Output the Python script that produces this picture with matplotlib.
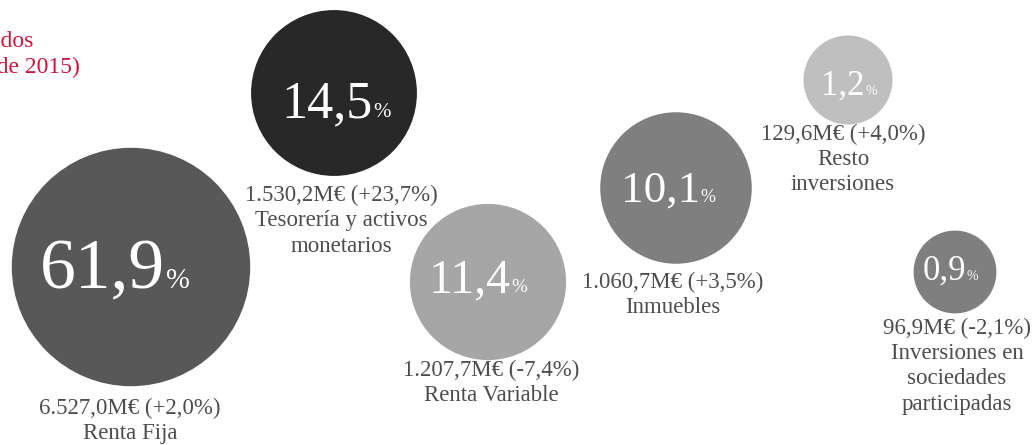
import matplotlib
matplotlib.use("Agg")
import matplotlib.pyplot as plt
from matplotlib.patches import Circle

# ---------------- data ----------------
categories = ["Renta Fija", "Tesorería y activos\nmonetarios", "Renta Variable",
              "Inmuebles", "Resto\ninversiones", "Inversiones en\nsociedades\nparticipadas"]
shares = [61.9, 14.5, 11.4, 10.1, 1.2, 0.9]          # % of total
amounts = [6527.0, 1530.2, 1207.7, 1060.7, 129.6, 96.9]  # M€
changes = [2.0, 23.7, -7.4, 3.5, 4.0, -2.1]           # % change
title_lines = ["Inversiones y fondos líquidos", "(a 31 de diciembre de 2015)"]

# ---------------- layout / style ----------------
W, H = 1033, 445
centers = [(131, 267), (334, 93), (488, 282), (676, 188), (848, 80), (955, 272)]
colors = ["#585858", "#282828", "#a6a6a6", "#7f7f7f", "#bfbfbf", "#7f7f7f"]
num_center_x = [115, 336, 478, 668, 849, 950]
num_baseline = [288, 117, 292, 202, 95, 280]
num_fontsize = [51.5, 37.5, 34.5, 32.5, 25, 25]
label_pos = [(130, 408), (341, 195), (491, 370), (673, 282), (843, 134), (957, 328)]
line_step = 25.5
label_color = "#4d4d4d"
red = "#d2143a"
FONT = ["Liberation Serif", "DejaVu Serif"]
r_scale = 42.5


def es_num(v):
    s = f"{v:,.1f}"
    return s.replace(",", "X").replace(".", ",").replace("X", ".")


def es_share(v):
    return f"{v:.1f}".replace(".", ",")


def es_change(v):
    return f"{v:+.1f}".replace(".", ",")


fig = plt.figure(figsize=(W / 100, H / 100), dpi=100)
ax = fig.add_axes([0, 0, 1, 1])
ax.set_xlim(0, W)
ax.set_ylim(H, 0)
ax.set_aspect("equal")
ax.axis("off")

renderer = fig.canvas.get_renderer()

for i, cat in enumerate(categories):
    cx, cy = centers[i]
    r = r_scale * shares[i] ** 0.25
    ax.add_patch(Circle((cx, cy), r, facecolor=colors[i], edgecolor="none"))

    # big number + small %
    fs = num_fontsize[i]
    t = ax.text(0, num_baseline[i], es_share(shares[i]), ha="left", va="baseline",
                fontsize=fs, color="white", family=FONT)
    p = ax.text(0, num_baseline[i], "%", ha="left", va="baseline",
                fontsize=fs * 0.40, color="white", family=FONT)
    wn = t.get_window_extent(renderer).width
    wp = p.get_window_extent(renderer).width
    gap = 0.5
    x0 = num_center_x[i] - (wn + gap + wp) / 2
    t.set_x(x0)
    p.set_x(x0 + wn + gap)

    # labels below
    lines = [f"{es_num(amounts[i])}M€ ({es_change(changes[i])}%)"] + cat.split("\n")
    lx, ly = label_pos[i]
    for k, ln in enumerate(lines):
        ax.text(lx, ly + k * line_step, ln, ha="center", va="center",
                fontsize=16.5, color=label_color, family=FONT)

# red title, cut off at the left edge as in the reference
ax.text(33, 42, title_lines[0], ha="right", va="center", fontsize=17, color=red, family=FONT)
ax.text(80, 67, title_lines[1], ha="right", va="center", fontsize=17, color=red, family=FONT)

fig.savefig("out.png", dpi=100)
